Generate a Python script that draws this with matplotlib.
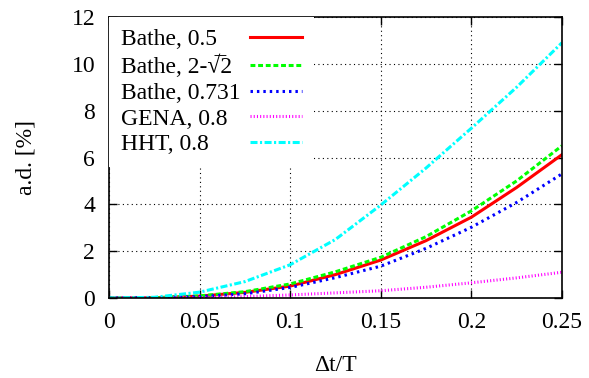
import matplotlib
matplotlib.use("Agg")
import matplotlib.pyplot as plt

plt.rcParams['font.family'] = ['Liberation Serif', 'DejaVu Serif']

# time step ratio and amplitude decay [%]
dt = [0.0, 0.025, 0.05, 0.075, 0.1, 0.125, 0.15, 0.175, 0.2, 0.225, 0.25]
bathe_05 = [0.0, 0.01, 0.08, 0.24, 0.51, 1.0, 1.62, 2.45, 3.45, 4.72, 6.12]
bathe_2s2 = [0.0, 0.01, 0.09, 0.27, 0.6, 1.12, 1.74, 2.62, 3.72, 5.0, 6.5]
bathe_0731 = [0.0, 0.01, 0.06, 0.18, 0.45, 0.87, 1.36, 2.12, 3.02, 4.08, 5.3]
gena_08 = [0.0, 0.003, 0.02, 0.06, 0.13, 0.22, 0.31, 0.46, 0.65, 0.86, 1.1]
hht_08 = [0.0, 0.03, 0.25, 0.7, 1.42, 2.5, 3.97, 5.55, 7.25, 9.0, 10.9]

labels = ['Bathe, 0.5', 'Bathe, 2-\u221a\u03052', 'Bathe, 0.731', 'GENA, 0.8', 'HHT, 0.8']
xticks = [0, 0.05, 0.1, 0.15, 0.2, 0.25]
xticklabels = ['0', '0.05', '0.1', '0.15', '0.2', '0.25']
yticks = [0, 2, 4, 6, 8, 10, 12]

fig = plt.figure(figsize=(5.89, 3.78), dpi=100)
ax = fig.add_axes([0.185, 0.2116, 0.769, 0.7434])

ax.plot(dt, bathe_05, color='#ff0000', lw=2.2, ls='-', label=labels[0])
ax.plot(dt, bathe_2s2, color='#00ff00', lw=2.2, ls=(0, (1.6, 0.9)), label=labels[1])
ax.plot(dt, bathe_0731, color='#0000ff', lw=2.2, ls=(0, (0.8, 1.3)), label=labels[2])
ax.plot(dt, gena_08, color='#ff00ff', lw=2.2, ls=(0, (0.35, 0.7)), label=labels[3])
ax.plot(dt, hht_08, color='#00ffff', lw=2.2, ls=(0, (2.3, 0.8, 0.7, 0.8)), label=labels[4])

ax.set_xlim(0, 0.25)
ax.set_ylim(0, 12)
ax.set_xticks(xticks)
ax.set_xticklabels(xticklabels)
ax.set_yticks(yticks)
ax.tick_params(direction='in', length=6, width=1, top=True, right=True,
               labelsize=17, pad=10)
ax.grid(True, color='black', ls=(0, (1, 3)), lw=0.8)
ax.set_axisbelow(True)
for s in ax.spines.values():
    s.set_linewidth(1.2)

ax.set_xlabel('\u0394t/T', fontsize=17, labelpad=16)
ax.set_ylabel('a.d. [%]', fontsize=17, labelpad=25)

leg = ax.legend(loc='upper left', bbox_to_anchor=(0.0, 1.0), borderaxespad=0.0,
                fontsize=17, markerfirst=False, frameon=True, fancybox=False,
                handlelength=2.2, handletextpad=0.4, labelspacing=0.18,
                borderpad=0.5)
leg.get_frame().set_edgecolor('none')
leg.get_frame().set_facecolor('white')
leg.get_frame().set_alpha(1.0)

# gnuplot keeps key text left-aligned with the samples in one column
fig.canvas.draw()
r = fig.canvas.get_renderer()
widths = [t.get_window_extent(r).width for t in leg.get_texts()]
wmax = max(widths)
col = leg._legend_handle_box.get_children()[0]
col.align = 'left'
for item, w in zip(col.get_children(), widths):
    item.sep = item.sep + (wmax - w) * 72.0 / fig.dpi

fig.savefig('out.png', dpi=100)
